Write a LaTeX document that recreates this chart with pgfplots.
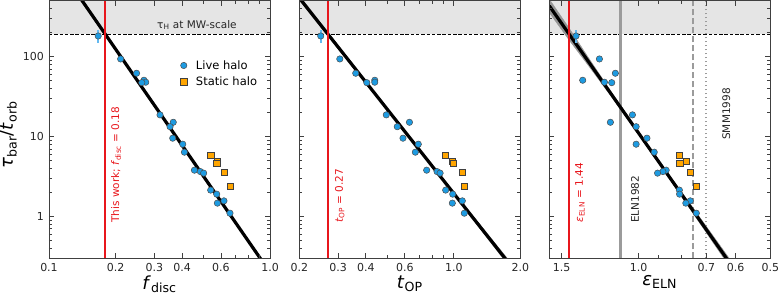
\documentclass[border=0pt]{standalone}
\usepackage{pgfplots}
\pgfplotsset{compat=1.18}
\usepackage{pgfplotstable}
\usepackage{fontspec}
\setmainfont{DejaVu Sans}

\definecolor{liveblue}{RGB}{30,155,225}
\definecolor{errblue}{RGB}{100,185,240}
\definecolor{statorange}{RGB}{255,165,0}
\definecolor{workred}{RGB}{232,22,28}
\definecolor{shade}{RGB}{229,229,229}
\definecolor{refgrey}{RGB}{155,155,155}
\definecolor{bandgrey}{RGB}{150,150,150}

% bar formation time vs. disc fraction, t_OP and epsilon_ELN
\pgfplotstableread{
tau    fdisc  top    eps
181.5  0.167  0.250  1.390
93.6   0.211  0.305  1.229
62.0   0.249  0.360  1.130
50.7   0.269  0.439  1.342
47.9   0.274  0.439  1.197
47.3   0.263  0.404  1.152
18.7   0.318  0.495  1.033
15.1   0.365  0.630  1.160
13.3   0.353  0.555  1.013
9.55   0.363  0.589  0.957
8.03   0.403  0.691  1.013
6.38   0.410  0.670  0.921
3.80   0.455  0.754  0.865
3.65   0.484  0.840  0.880
3.49   0.501  0.867  0.905
2.14   0.539  0.919  0.807
1.905  0.574  0.989  0.806
1.57   0.619  1.093  0.762
1.47   0.578  0.985  0.780
1.10   0.659  1.116  0.738
}\livehalo

\pgfplotstableread{
tau    fdisc  top    eps
5.79   0.539  0.916  0.807
4.97   0.578  0.985  0.778
4.69   0.574  0.993  0.805
3.62   0.619  1.093  0.763
2.37   0.659  1.113  0.738
}\statichalo

\newcommand{\lab}{\fontsize{18}{21}\selectfont}
\newcommand{\txt}{\fontsize{10.5}{12}\selectfont}
\newcommand{\tck}{\fontsize{11}{13}\selectfont}

\pgfplotsset{
  every axis/.append style={
    scale only axis, width=221pt, height=257.5pt,
    ymin=0.3, ymax=500,
    axis on top,
    axis line style={black!75, line width=0.9pt},
    major tick length=5pt, minor tick length=3pt,
    tick align=inside,
    tick style={black!75, line width=0.8pt},
    ticklabel style={font=\tck, text=black!85},
    xticklabel style={yshift=-1.5pt},
    yticklabel style={xshift=-1.5pt},
    xlabel style={at={(rel axis cs:0.5,0)}, anchor=north, yshift=-17pt, inner sep=0pt, font=\lab},
  },
  live/.style={only marks, mark=*, mark size=3.2pt,
    mark options={fill=liveblue, draw=black!70, line width=0.5pt}},
  static/.style={only marks, mark=square*, mark size=3.1pt,
    mark options={fill=statorange, draw=black!75, line width=0.5pt}},
  fitline/.style={black, line width=3.2pt, forget plot},
  fitband/.style={fill=bandgrey, draw=bandgrey, line width=0.3pt, forget plot},
  thiswork/.style={draw=workred, line width=2.1pt, forget plot},
  errbar/.style={draw=errblue, line width=1.6pt, forget plot},
  mwshade/.style={fill=shade, draw=none, forget plot},
  mwline/.style={black, line width=0.9pt, dash pattern=on 3.5pt off 1.8pt, forget plot},
}

\begin{document}
\begin{tikzpicture}
\useasboundingbox (0,0) rectangle (778pt,297pt);

% ---------------- disc fraction ----------------
\begin{axis}[at={(49pt,38.7pt)}, anchor=south west,
  xmode=log, ymode=log,
  ytick={1,10,100}, yticklabels={1,10,100},
  minor ytick={0.3,0.4,0.5,0.6,0.7,0.8,0.9,2,3,4,5,6,7,8,9,20,30,40,50,60,70,80,90,200,300,400},
  xmin=0.1, xmax=1.0,
  xtick={0.1,0.2,0.3,0.4,0.6,1.0}, xticklabels={0.1,0.2,0.3,0.4,0.6,1.0},
  minor xtick={0.5,0.7,0.8,0.9},
  xlabel={\textit{f}\textsubscript{disc}},
  ylabel={\textit{τ}\textsubscript{bar}/\textit{t}\textsubscript{orb}},
  ylabel style={at={(rel axis cs:0,0.48)}, anchor=south, yshift=32pt, inner sep=0pt, font=\lab},
  legend style={at={(0.965,0.785)}, anchor=north east, draw=none, fill=none,
    font=\fontsize{11.5}{13}\selectfont, row sep=2pt,
    /tikz/every odd column/.append style={column sep=7pt}},
  legend cell align=left,
]
\addplot[mwshade] coordinates {(0.1,190) (1.0,190) (1.0,500) (0.1,500)} -- cycle;
\addplot[mwline] coordinates {(0.1,190) (1.0,190)};
\addplot[fitband] coordinates {(0.13,739.6) (0.2,129.0) (0.3,25.22) (0.45,4.980) (0.65,1.157) (0.95,0.2596)
  (0.95,0.2313) (0.65,1.080) (0.45,4.756) (0.3,24.08) (0.2,120.3) (0.13,659.2)} -- cycle;
\addplot[fitline] coordinates {(0.13,698.2) (0.95,0.2450)};
\addplot[thiswork] coordinates {(0.18,0.3) (0.18,500)};
\addplot[errbar] coordinates {(0.167,150) (0.167,216)};
\addplot[live] table[x=fdisc, y=tau] {\livehalo};
\addlegendentry{Live halo}
\addplot[static] table[x=fdisc, y=tau] {\statichalo};
\addlegendentry{Static halo}
\node[font=\txt, text=black!85, inner sep=0pt] at (axis cs:0.467,249) {τ\textsubscript{H} at MW-scale};
\node[rotate=90, anchor=west, inner sep=0pt, font=\txt, text=workred] at (axis cs:0.201,0.83)
  {This work; \textit{f}\textsubscript{disc} = 0.18};
\end{axis}

% ---------------- t_OP ----------------
\begin{axis}[at={(299.3pt,38.7pt)}, anchor=south west,
  xmode=log, ymode=log,
  ytick={1,10,100}, yticklabels={},
  minor ytick={0.3,0.4,0.5,0.6,0.7,0.8,0.9,2,3,4,5,6,7,8,9,20,30,40,50,60,70,80,90,200,300,400},
  xmin=0.2, xmax=2.0,
  xtick={0.2,0.3,0.4,0.6,1.0,2.0}, xticklabels={0.2,0.3,0.4,0.6,1.0,2.0},
  minor xtick={0.5,0.7,0.8,0.9},
  xlabel={\textit{t}\textsubscript{OP}},
]
\addplot[mwshade] coordinates {(0.2,190) (2.0,190) (2.0,500) (0.2,500)} -- cycle;
\addplot[mwline] coordinates {(0.2,190) (2.0,190)};
\addplot[fitband] coordinates {(0.2,582.1) (0.35,80.24) (0.5,22.61) (0.7,6.963) (1.0,2.026) (1.4,0.6388) (1.8,0.2711)
  (1.8,0.2276) (1.4,0.5614) (1.0,1.865) (0.7,6.589) (0.5,21.39) (0.35,73.17) (0.2,506.9)} -- cycle;
\addplot[fitline] coordinates {(0.2,543.1) (1.8,0.2484)};
\addplot[thiswork] coordinates {(0.27,0.3) (0.27,500)};
\addplot[errbar] coordinates {(0.250,150) (0.250,216)};
\addplot[live] table[x=top, y=tau] {\livehalo};
\addplot[static] table[x=top, y=tau] {\statichalo};
\node[rotate=90, anchor=west, inner sep=0pt, font=\txt, text=workred] at (axis cs:0.305,0.83)
  {\textit{t}\textsubscript{OP} = 0.27};
\end{axis}

% ---------------- epsilon_ELN ----------------
\begin{axis}[at={(549.3pt,38.7pt)}, anchor=south west,
  xmode=log, ymode=log,
  ytick={1,10,100}, yticklabels={},
  minor ytick={0.3,0.4,0.5,0.6,0.7,0.8,0.9,2,3,4,5,6,7,8,9,20,30,40,50,60,70,80,90,200,300,400},
  x dir=reverse, xmin=0.5, xmax=1.6,
  xtick={0.5,0.6,0.7,1.0,1.5}, xticklabels={0.5,0.6,0.7,1.0,1.5},
  minor xtick={0.8,0.9},
  xlabel={\textit{ε}\textsubscript{ELN}},
]
\addplot[mwshade] coordinates {(0.5,190) (1.6,190) (1.6,500) (0.5,500)} -- cycle;
\addplot[mwline] coordinates {(0.5,190) (1.6,190)};
\addplot[draw=refgrey, line width=2.1pt, forget plot] coordinates {(1.1,0.3) (1.1,500)};
\addplot[draw=refgrey, line width=2.1pt, dash pattern=on 6pt off 3pt, forget plot] coordinates {(0.75,0.3) (0.75,500)};
\addplot[draw=refgrey, line width=2.1pt, dash pattern=on 1.5pt off 2.5pt, forget plot] coordinates {(0.70,0.3) (0.70,500)};
\addplot[fitband] coordinates {(1.6,525.6) (1.44,225.9) (1.3,96.0) (1.15,35.2) (1.0,11.57) (0.85,3.299) (0.75,1.271) (0.62,0.298)
  (0.62,0.2366) (0.75,1.082) (0.85,2.940) (1.0,10.55) (1.15,30.7) (1.3,76.2) (1.44,159.9) (1.6,355.3)} -- cycle;
\addplot[fitline] coordinates {(1.6,432) (0.62,0.2655)};
\addplot[thiswork] coordinates {(1.44,0.3) (1.44,500)};
\addplot[errbar] coordinates {(1.390,150) (1.390,216)};
\addplot[live] table[x=eps, y=tau] {\livehalo};
\addplot[static] table[x=eps, y=tau] {\statichalo};
\node[rotate=90, anchor=west, inner sep=0pt, font=\txt, text=workred] at (axis cs:1.362,0.84)
  {\textit{ε}\textsubscript{ELN} = 1.44};
\node[rotate=90, anchor=west, inner sep=0pt, font=\txt, text=black!85] at (axis cs:1.019,0.83) {ELN1982};
\node[rotate=90, anchor=west, inner sep=0pt, font=\txt, text=black!85] at (axis cs:0.6306,9.09) {SMM1998};
\end{axis}
\end{tikzpicture}
\end{document}
